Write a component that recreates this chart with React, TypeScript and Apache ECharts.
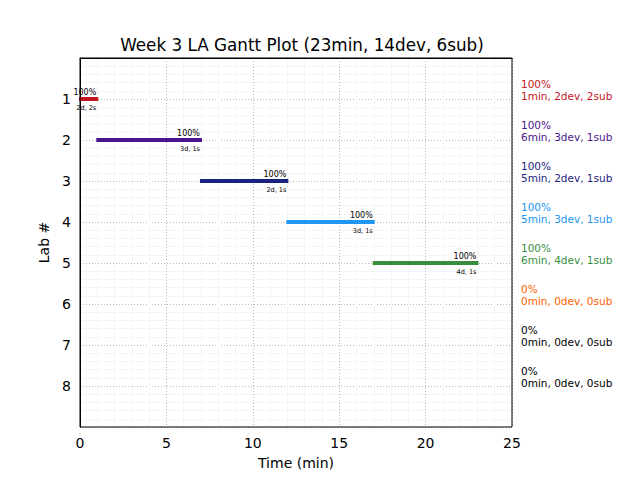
import React, { useEffect, useRef } from "react";
import * as echarts from "echarts";

const labs = [1, 2, 3, 4, 5, 6, 7, 8];
const starts = [0, 1, 7, 12, 17, 0, 0, 0];
const ends = [1, 7, 12, 17, 23, 0, 0, 0];
const percents = [100, 100, 100, 100, 100, 0, 0, 0];
const minutes = [1, 6, 5, 5, 6, 0, 0, 0];
const devs = [2, 3, 2, 3, 4, 0, 0, 0];
const subs = [2, 1, 1, 1, 1, 0, 0, 0];
const colors = ["#c3161f", "#4a148c", "#1a237e", "#2196f3", "#388e3c", "#ff6000", "#000000", "#000000"];
const xTicks = [0, 5, 10, 15, 20, 25];
const titleText = "Week 3 LA Gantt Plot (23min, 14dev, 6sub)";

const FONT = "DejaVu Sans";

export default function App() {
  const ref = useRef<HTMLDivElement>(null);
  useEffect(() => {
    const chart = echarts.init(ref.current!, undefined, { renderer: "svg" });
    const data = labs.map((lab, i) => [lab, starts[i], ends[i], i]);
    chart.setOption({
      animation: false,
      textStyle: { fontFamily: FONT },
      title: {
        text: titleText,
        left: 297,
        textAlign: "center",
        top: 31,
        textStyle: { fontFamily: FONT, fontSize: 16.8, fontWeight: "normal", color: "#000" },
      },
      grid: { left: 80, top: 58, right: 128, bottom: 53, containLabel: false },
      xAxis: {
        type: "value",
        min: 0,
        max: 25,
        interval: 5,
        name: "Time (min)",
        nameLocation: "middle",
        nameGap: 29,
        nameTextStyle: { fontFamily: FONT, fontSize: 14, color: "#000" },
        axisLine: { show: true, lineStyle: { color: "#000" } },
        axisTick: { show: false },
        axisLabel: {
          fontFamily: FONT,
          fontSize: 14,
          color: "#000",
          margin: 9,
          formatter: (v: number) => (xTicks.includes(v) ? String(v) : ""),
        },
        splitLine: { show: true, lineStyle: { color: "#b8b8b8", type: [1, 2], width: 1 } },
        minorTick: { show: false, splitNumber: 5 },
        minorSplitLine: { show: true, lineStyle: { color: "#f5f5f5", width: 1 } },
      },
      yAxis: {
        type: "value",
        inverse: true,
        min: 0,
        max: 9,
        interval: 1,
        name: "Lab #",
        nameLocation: "middle",
        nameGap: 24,
        nameRotate: 90,
        nameTextStyle: { fontFamily: FONT, fontSize: 14, color: "#000" },
        axisLine: { show: true, lineStyle: { color: "#000" } },
        axisTick: { show: false },
        axisLabel: {
          fontFamily: FONT,
          fontSize: 14,
          color: "#000",
          margin: 9,
          formatter: (v: number) => (labs.includes(v) ? String(v) : ""),
        },
        splitLine: { show: true, lineStyle: { color: "#b8b8b8", type: [1, 2], width: 1 } },
        minorTick: { show: false, splitNumber: 5 },
        minorSplitLine: { show: true, lineStyle: { color: "#f5f5f5", width: 1 } },
      },
      graphic: [
        {
          type: "rect",
          z: 100,
          shape: { x: 80, y: 58, width: 432, height: 369 },
          style: { fill: "none", stroke: "#000", lineWidth: 1 },
          silent: true,
        },
      ],
      series: [
        {
          type: "custom",
          clip: false,
          data,
          renderItem: (params: any, api: any) => {
            const lab = api.value(0);
            const s = api.value(1);
            const e = api.value(2);
            const i = api.value(3);
            const color = colors[i];
            const p0 = api.coord([s, lab]);
            const p1 = api.coord([e, lab]);
            const pr = api.coord([25, lab]);
            const children: any[] = [];
            if (e > s) {
              children.push({
                type: "rect",
                shape: { x: p0[0] - 1, y: p0[1] - 2, width: p1[0] - p0[0] + 2, height: 4 },
                style: { fill: color },
              });
              children.push({
                type: "text",
                style: {
                  x: p1[0] - 1,
                  y: p1[1] - 3,
                  text: percents[i] + "%",
                  align: "right",
                  verticalAlign: "bottom",
                  fontFamily: FONT,
                  fontSize: 8,
                  fill: "#000",
                },
              });
              children.push({
                type: "text",
                style: {
                  x: p1[0] - 1,
                  y: p1[1] + 5,
                  text: devs[i] + "d, " + subs[i] + "s",
                  align: "right",
                  verticalAlign: "top",
                  fontFamily: FONT,
                  fontSize: 6.5,
                  fill: "#000",
                },
              });
            }
            children.push({
              type: "text",
              style: {
                x: pr[0] + 9,
                y: pr[1] + 3,
                text: percents[i] + "%\n" + minutes[i] + "min, " + devs[i] + "dev, " + subs[i] + "sub",
                align: "left",
                verticalAlign: "bottom",
                fontFamily: FONT,
                fontSize: 10.5,
                lineHeight: 12,
                fill: color,
              },
            });
            return { type: "group", children };
          },
        },
      ],
    });
    return () => chart.dispose();
  }, []);
  return (
    <div
      ref={ref}
      style={{ position: "fixed", left: 0, top: 0, width: 640, height: 480, background: "#fff" }}
    />
  );
}
